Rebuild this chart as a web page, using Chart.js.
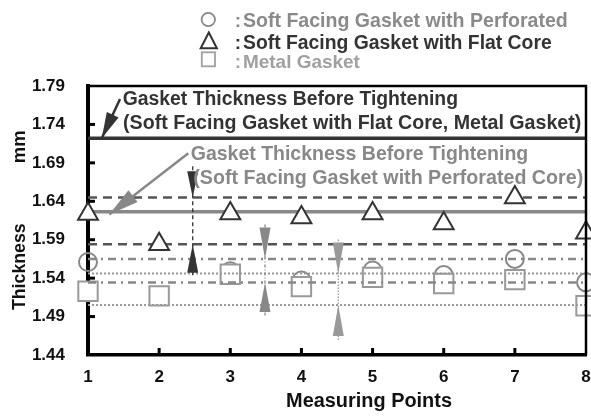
<!DOCTYPE html>
<html><head><meta charset="utf-8">
<script src="https://cdn.jsdelivr.net/npm/chart.js@4.4.1/dist/chart.umd.min.js"></script>
<style>html,body{margin:0;padding:0;background:#fff}#wrap{width:591px;height:418px;position:relative}</style>
</head><body><div id="wrap"><canvas id="c" width="591" height="418"></canvas></div>
<script>
// ---------- data ----------
const categories = ['1','2','3','4','5','6','7','8'];
const perforated = [1.561, null, 1.549, 1.537, 1.550, 1.544, 1.565, 1.5345];
const flatCore   = [1.6235, 1.584, 1.624, 1.619, 1.624, 1.611, 1.645, 1.599];
const metal      = [1.523, 1.517, 1.545, 1.529, 1.541, 1.533, 1.538, 1.504];
const yTicks = [1.44, 1.49, 1.54, 1.59, 1.64, 1.69, 1.74, 1.79];
const initialFlatMetal = 1.722;   // thickness before tightening (flat core, metal)
const initialPerforated = 1.6264; // thickness before tightening (perforated)
const flatRange = [1.645, 1.584];
const perforatedRange = [1.565, 1.5344];
const metalRange = [1.5462, 1.5049];

const FONT = '"Liberation Sans", Arial, sans-serif';
const flat = v => categories.map(() => v);

function refLine(v, color, width, dash, order) {
  return { type: 'line', data: flat(v), borderColor: color, borderWidth: width, borderDash: dash,
    pointRadius: 0, pointHoverRadius: 0, fill: false, tension: 0, order: order };
}
function markers(data, style, radius, color, bg, bw, order) {
  return { type: 'line', data: data, showLine: false, pointStyle: style, pointRadius: radius,
    pointHoverRadius: radius, pointBorderColor: color, pointBackgroundColor: bg,
    pointBorderWidth: bw, pointHoverBorderWidth: bw, clip: false, order: order };
}

const datasets = [
  markers(flatCore, 'triangle', 11.5, '#333', '#fff', 2, 1),
  refLine(initialFlatMetal, '#333', 3.5, [], 10),
  refLine(initialPerforated, '#888', 3.5, [], 11),
  refLine(flatRange[0], '#555', 2.5, [9, 6], 12),
  refLine(flatRange[1], '#555', 2.5, [9, 6], 12),
  refLine(perforatedRange[0], '#888', 2.5, [8, 5, 2, 5], 20),
  refLine(perforatedRange[1], '#888', 2.5, [8, 5, 2, 5], 20),
  refLine(metalRange[0], '#999', 2, [2, 2], 21),
  refLine(metalRange[1], '#999', 2, [2, 2], 21),
  markers(metal, 'rect', 13.7, '#999', '#fff', 2, 40),
  markers(perforated, 'circle', 9, '#888', 'rgba(255,255,255,0)', 2, 50)
];

// annotations in data units (x = category index, y = thickness)
const annotTexts = [
  { t: 'Gasket Thickness Before Tightening', x: 0.488, y: 1.7652, w: 335.6, c: '#333' },
  { t: '(Soft Facing Gasket with Flat Core, Metal Gasket)', x: 0.492, y: 1.7338, w: 458.7, c: '#333' },
  { t: 'Gasket Thickness Before Tightening', x: 1.444, y: 1.6934, w: 337.6, c: '#888' },
  { t: '(Soft Facing Gasket with Perforated Core)', x: 1.480, y: 1.6620, w: 390, c: '#888' }
];
const slantArrows = [
  { from: [0.450, 1.7730], to: [0.193, initialFlatMetal], c: '#333', len: 26, hw: 13 },
  { from: [1.410, 1.7025], to: [0.299, 1.6228], c: '#888', len: 30, hw: 15 }
];
const rangeMarkers = [
  { x: 1.472, top: 1.6855, bot: 1.5432, hi: flatRange[0], hiBase: 1.679, lo: flatRange[1], loBase: 1.5471, c: '#333', dash: [4, 3] },
  { x: 2.488, top: 1.6098, bot: 1.4909, hi: perforatedRange[0], hiBase: 1.6059, lo: perforatedRange[1], loBase: 1.4961, c: '#888', dash: [3, 2, 1, 2] },
  { x: 3.518, top: 1.5902, bot: 1.4596, hi: metalRange[0], hiBase: 1.5863, lo: metalRange[1], loBase: 1.4648, c: '#999', dash: [1.5, 1.5] }
];

function head(ctx, tx, ty, fx, fy, len, w, color) {
  const a = Math.atan2(ty - fy, tx - fx);
  const bx = tx - Math.cos(a) * len, by = ty - Math.sin(a) * len;
  const nx = -Math.sin(a) * w / 2, ny = Math.cos(a) * w / 2;
  ctx.beginPath(); ctx.moveTo(tx, ty); ctx.lineTo(bx + nx, by + ny); ctx.lineTo(bx - nx, by - ny);
  ctx.closePath(); ctx.fillStyle = color; ctx.fill();
}
function fitText(ctx, s, x, y, w, color, align) {
  ctx.font = 'bold 20px ' + FONT;
  const m = ctx.measureText(s).width;
  const size = 20 * w / m;
  ctx.font = 'bold ' + size.toFixed(2) + 'px ' + FONT;
  ctx.fillStyle = color; ctx.textAlign = align || 'left'; ctx.textBaseline = 'alphabetic';
  ctx.fillText(s, x, y);
}

const decor = {
  id: 'decor',
  afterDatasetsDraw(chart) {
    const ctx = chart.ctx, xs = chart.scales.x, ys = chart.scales.y, ca = chart.chartArea;
    const X = v => xs.getPixelForValue(v), Y = v => ys.getPixelForValue(v);
    ctx.save();
    // frame top/right
    ctx.strokeStyle = '#000'; ctx.lineWidth = 2.5; ctx.setLineDash([]);
    ctx.beginPath(); ctx.moveTo(ca.left, ca.top); ctx.lineTo(ca.right, ca.top); ctx.lineTo(ca.right, ca.bottom); ctx.stroke();
    // inward ticks
    ctx.lineWidth = 3;
    yTicks.slice(1, -1).forEach(v => { const y = Y(v); ctx.beginPath(); ctx.moveTo(ca.left, y); ctx.lineTo(ca.left + 7, y); ctx.stroke(); });
    categories.slice(1, -1).forEach((c, i) => { const x = X(i + 1); ctx.beginPath(); ctx.moveTo(x, ca.bottom); ctx.lineTo(x, ca.bottom - 7); ctx.stroke(); });
    // slanted arrows
    slantArrows.forEach(a => {
      const fx = X(a.from[0]), fy = Y(a.from[1]), tx = X(a.to[0]), ty = Y(a.to[1]);
      ctx.strokeStyle = a.c; ctx.lineWidth = 2.5; ctx.setLineDash([]);
      ctx.beginPath(); ctx.moveTo(fx, fy); ctx.lineTo(tx, ty); ctx.stroke();
      head(ctx, tx, ty, fx, fy, a.len, a.hw, a.c);
    });
    // range markers
    rangeMarkers.forEach(r => {
      const x = X(r.x);
      ctx.strokeStyle = r.c; ctx.lineWidth = 1.3; ctx.setLineDash(r.dash);
      ctx.beginPath(); ctx.moveTo(x, Y(r.top)); ctx.lineTo(x, Y(r.bot)); ctx.stroke();
      ctx.setLineDash([]);
      head(ctx, x, Y(r.hi), x, Y(r.hiBase), Y(r.hi) - Y(r.hiBase), 11, r.c);
      head(ctx, x, Y(r.lo), x, Y(r.loBase), Y(r.loBase) - Y(r.lo), 11, r.c);
    });
    // annotation texts
    annotTexts.forEach(a => fitText(ctx, a.t, X(a.x), Y(a.y), a.w, a.c));
    ctx.restore();
  },
  afterDraw(chart) {
    const ctx = chart.ctx;
    ctx.save();
    // legend
    ctx.setLineDash([]);
    ctx.lineWidth = 1.8; ctx.strokeStyle = '#888';
    ctx.beginPath(); ctx.arc(208.3, 19.5, 6.7, 0, Math.PI * 2); ctx.stroke();
    ctx.lineWidth = 2; ctx.strokeStyle = '#333';
    ctx.beginPath(); ctx.moveTo(200.7, 48.3); ctx.lineTo(216.9, 48.3); ctx.lineTo(208.8, 32.5); ctx.closePath(); ctx.stroke();
    ctx.lineWidth = 1.8; ctx.strokeStyle = '#a0a0a0';
    ctx.strokeRect(201.8, 52.3, 13.2, 14);
    const rows = [
      { t: 'Soft Facing Gasket with Perforated', y: 26.7, w: 325, c: '#8a8a8a' },
      { t: 'Soft Facing Gasket with Flat Core', y: 49.3, w: 308.7, c: '#333' },
      { t: 'Metal Gasket', y: 68.3, w: 117, c: '#a0a0a0' }
    ];
    rows.forEach(r => {
      ctx.font = 'bold 19px ' + FONT; ctx.fillStyle = r.c; ctx.textAlign = 'center';
      ctx.fillText(':', 238, r.y);
      fitText(ctx, r.t, 243, r.y, r.w, r.c);
    });
    // axis titles
    fitText(ctx, 'Measuring Points', 369, 407, 166, '#111', 'center');
    ctx.save(); ctx.translate(25, 266.7); ctx.rotate(-Math.PI / 2);
    fitText(ctx, 'Thickness', 0, 0, 86.7, '#111', 'center'); ctx.restore();
    ctx.save(); ctx.translate(25, 146.7); ctx.rotate(-Math.PI / 2);
    fitText(ctx, 'mm', 0, 0, 33, '#111', 'center'); ctx.restore();
    ctx.restore();
  }
};

new Chart(document.getElementById('c'), {
  type: 'line',
  data: { labels: categories, datasets: datasets },
  plugins: [decor],
  options: {
    responsive: false, animation: false, events: [], devicePixelRatio: 1,
    layout: { autoPadding: false, padding: { top: 86, right: 5, left: 0, bottom: 0 } },
    plugins: { legend: { display: false }, tooltip: { enabled: false } },
    scales: {
      x: {
        type: 'category', offset: false,
        afterFit: s => { s.height = 63; s.paddingLeft = 0; s.paddingRight = 0; },
        grid: { display: false, drawTicks: false },
        border: { display: true, color: '#000', width: 3.5 },
        ticks: { padding: 12, color: '#111', maxRotation: 0, autoSkip: false, font: { family: FONT, size: 17, weight: 'bold' } }
      },
      y: {
        min: 1.44, max: 1.79,
        afterBuildTicks: s => { s.ticks = yTicks.map(v => ({ value: v })); },
        afterFit: s => { s.width = 88; s.paddingTop = 0; s.paddingBottom = 0; },
        grid: { display: false, drawTicks: false },
        border: { display: true, color: '#000', width: 4 },
        ticks: { padding: 23, color: '#111', font: { family: FONT, size: 17, weight: 'bold' }, callback: v => Number(v).toFixed(2) }
      }
    }
  }
});
</script></body></html>
